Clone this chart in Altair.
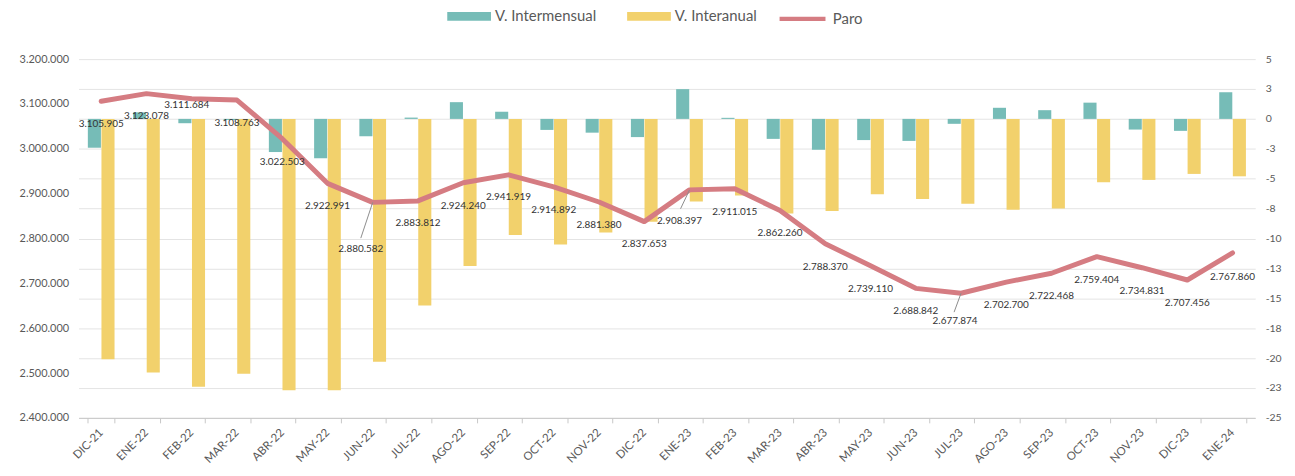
import altair as alt
import pandas as pd

# ---------------- data ----------------
months = ["DIC-21", "ENE-22", "FEB-22", "MAR-22", "ABR-22", "MAY-22", "JUN-22",
          "JUL-22", "AGO-22", "SEP-22", "OCT-22", "NOV-22", "DIC-22", "ENE-23",
          "FEB-23", "MAR-23", "ABR-23", "MAY-23", "JUN-23", "JUL-23", "AGO-23",
          "SEP-23", "OCT-23", "NOV-23", "DIC-23", "ENE-24"]
paro = [3105905, 3123078, 3111684, 3108763, 3022503, 2922991, 2880582,
        2883812, 2924240, 2941919, 2914892, 2881380, 2837653, 2908397,
        2911015, 2862260, 2788370, 2739110, 2688842, 2677874, 2702700,
        2722468, 2759404, 2734831, 2707456, 2767860]
v_intermensual = [-2.41, 0.55, -0.36, -0.09, -2.77, -3.29, -1.45, 0.11, 1.40,
                  0.60, -0.92, -1.15, -1.52, 2.49, 0.09, -1.67, -2.58, -1.77,
                  -1.84, -0.41, 0.93, 0.73, 1.36, -0.89, -1.00, 2.23]
v_interanual = [-20.1, -21.2, -22.4, -21.3, -22.7, -22.7, -20.3, -15.6, -12.3,
                -9.7, -10.5, -9.5, -8.6, -6.9, -6.4, -7.9, -7.7, -6.3, -6.7,
                -7.1, -7.6, -7.5, -5.3, -5.1, -4.6, -4.8]
bar_series = ["V. Intermensual", "V. Interanual"]
line_series = ["Paro"]
bar_colors = ["#76bcb7", "#f2d16c"]
line_colors = ["#d57c82"]

# label placement (pixel offsets from the line point), leader-line ends
label_dx = [0, 0, -5, 0, 0, 0, -12, 0, 0, 0, 0, 0, 0, -10,
            0, 0, 0, 0, 0, -6, 0, 0, 0, 0, 0, 0]
label_dy = [23, 23, 6, 23, 23, 23, 47, 22, 23, 22, 23, 23, 23, 31,
            23, 23, 23, 23, 23, 28, 23, 23, 23, 23, 23, 24]
leader_months = ["JUN-22", "ENE-23", "JUL-23"]
leader_dx = [-12, -9, -7]
leader_dy = [36, 19, 19]

# ---------------- frames ----------------
bars = pd.DataFrame({
    "mes": months * 2,
    "serie": [bar_series[0]] * len(months) + [bar_series[1]] * len(months),
    "valor": v_intermensual + v_interanual,
})
line = pd.DataFrame({
    "mes": months,
    "serie": line_series[0],
    "paro": paro,
    "txt": [f"{v:,}".replace(",", ".") for v in paro],
    "dx": label_dx,
    "dy": label_dy,
})
lead = line[line["mes"].isin(leader_months)].copy()
lead["lx"] = leader_dx
lead["ly"] = leader_dy

FONT = "Lato"
GREY = "#595959"

x_enc = alt.X("mes:N", sort=months, title=None,
              scale=alt.Scale(paddingInner=0.41, paddingOuter=0.205),
              axis=alt.Axis(labelAngle=-45, labelAlign="right", labelBaseline="middle",
                            labelFontSize=11.5, labelColor=GREY, labelFont=FONT,
                            domainColor="#c8c8c8", tickColor="#c8c8c8", tickSize=5,
                            tickBand="extent", labelPadding=8, grid=False))

bar_legend = alt.Legend(
    orient="none", legendX=382, legendY=-54, direction="horizontal", title=None,
    symbolType="M-2,-0.41H2V0.41H-2Z", symbolSize=484, symbolStrokeWidth=0,
    symbolOpacity=1, labelLimit=400, gridAlign="none",
    labelFontSize=15, labelColor=GREY, labelFont=FONT, labelOffset=15,
    columnPadding=31, padding=0,
)
line_legend = alt.Legend(
    orient="none", legendX=715, legendY=-54, direction="horizontal", title=None,
    symbolType="M-2.1,0H2.1", symbolSize=484, symbolStrokeWidth=4.5,
    labelLimit=400,
    labelFontSize=15, labelColor=GREY, labelFont=FONT, labelOffset=17,
    padding=0,
)

bar_layer = alt.Chart(bars).mark_bar().encode(
    x=x_enc,
    xOffset=alt.XOffset("serie:N", sort=bar_series,
                        scale=alt.Scale(paddingInner=0.04)),
    y=alt.Y("valor:Q", title=None,
            scale=alt.Scale(domain=[-25, 5], nice=False, zero=True),
            axis=alt.Axis(orient="right", values=[-25 + 2.5 * i for i in range(13)],
                          labelExpr="datum.value < 0 ? '-' + round(-datum.value) : '' + round(datum.value)",
                          grid=True, gridColor="#e4e4e4", domain=False, ticks=False,
                          labelPadding=10, labelFontSize=10.5, labelColor=GREY,
                          labelFont=FONT)),
    fill=alt.Fill("serie:N", sort=bar_series,
                  scale=alt.Scale(domain=bar_series, range=bar_colors),
                  legend=bar_legend),
)

y_line = alt.Y("paro:Q", title=None,
               scale=alt.Scale(domain=[2400000, 3200000], nice=False, zero=False),
               axis=alt.Axis(orient="left", values=[2400000 + 100000 * i for i in range(9)],
                             labelExpr="replace(format(datum.value, ','), regexp(',', 'g'), '.')",
                             grid=False, domain=False, ticks=False, labelPadding=10,
                             labelFontSize=11, labelColor=GREY, labelFont=FONT))

line_layer = alt.Chart(line).mark_line(strokeWidth=5, strokeCap="round",
                                       strokeJoin="round").encode(
    x=alt.X("mes:N", sort=months),
    y=y_line,
    stroke=alt.Stroke("serie:N",
                      scale=alt.Scale(domain=line_series, range=line_colors),
                      legend=line_legend),
)

lead_layer = alt.Chart(lead).mark_rule(color="#8c8c8c", strokeWidth=1,
                                       x2Offset=alt.ExprRef("datum.lx"),
                                       y2Offset=alt.ExprRef("datum.ly")).encode(
    x=alt.X("mes:N", sort=months),
    x2=alt.X2("mes:N"),
    y=alt.Y("paro:Q"),
    y2=alt.Y2("paro:Q"),
)

text_layer = alt.Chart(line).mark_text(
    fontSize=10, font=FONT, color="#333333", baseline="middle", align="center",
    dx=alt.ExprRef("datum.dx"), dy=alt.ExprRef("datum.dy"),
).encode(
    x=alt.X("mes:N", sort=months),
    y=alt.Y("paro:Q"),
    text="txt:N",
)

left = alt.layer(line_layer, lead_layer, text_layer)

chart = alt.layer(bar_layer, left).resolve_scale(y="independent").properties(
    width=1184, height=361,
    autosize=alt.AutoSizeParams(type="none"),
    padding={"left": 71, "top": 50, "right": 32, "bottom": 49},
    background="white",
).configure_view(stroke=None)

chart.save("out.html", embed_options={"renderer": "svg", "actions": False})
